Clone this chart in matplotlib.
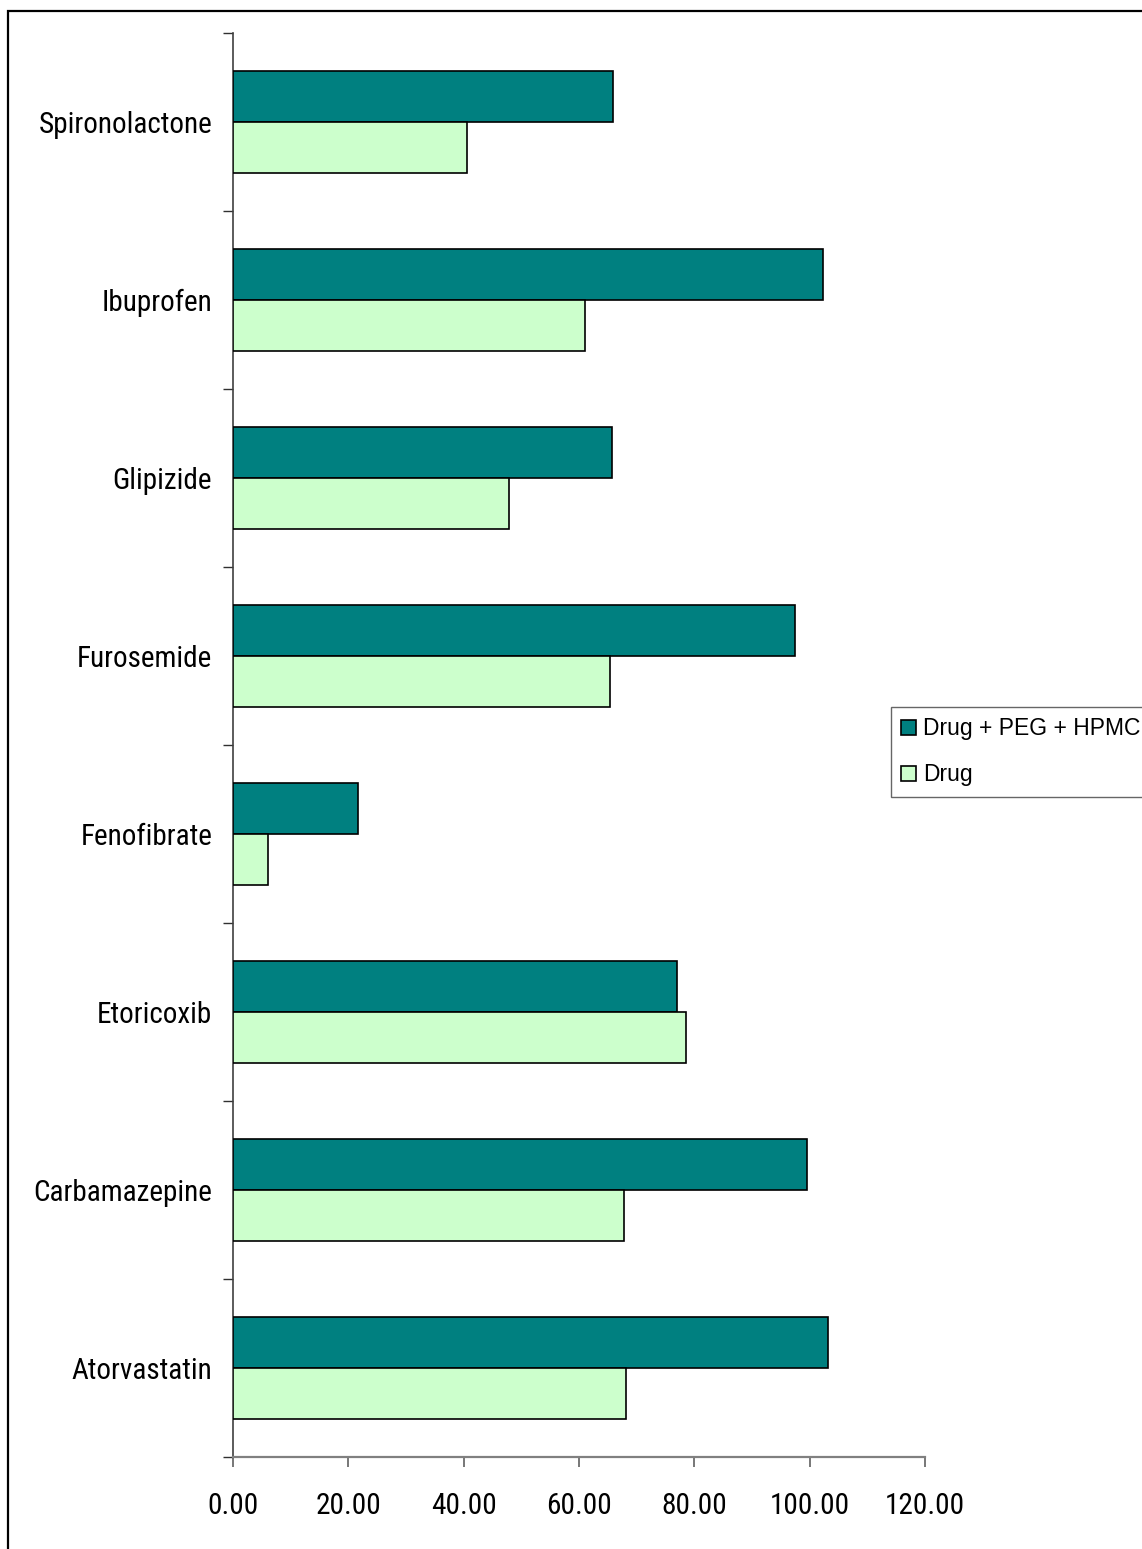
import matplotlib
matplotlib.use("Agg")
import matplotlib.pyplot as plt
from matplotlib.patches import Rectangle
import numpy as np

# Data (bottom-to-top order on the y axis)
drugs = ["Atorvastatin", "Carbamazepine", "Etoricoxib", "Fenofibrate",
         "Furosemide", "Glipizide", "Ibuprofen", "Spironolactone"]
drug_peg_hpmc = [103.2, 99.5, 77.0, 21.7, 97.5, 65.7, 102.3, 65.9]
drug_only = [68.1, 67.8, 78.6, 6.1, 65.4, 47.9, 61.0, 40.6]
x_ticks = [0, 20, 40, 60, 80, 100, 120]

W, H = 1142, 1549
fig = plt.figure(figsize=(W / 100, H / 100), dpi=100)
fig.patch.set_facecolor("white")

narrow = ["Liberation Sans Narrow", "Roboto Condensed", "Archivo Narrow",
          "PT Sans Narrow", "Liberation Sans"]
regular = ["Liberation Sans", "DejaVu Sans"]

ax = fig.add_axes([233 / W, 1 - 1457 / H, (925 - 233) / W, (1457 - 33) / H])

y = np.arange(len(drugs))
h = 0.284
ax.barh(y + h / 2, drug_peg_hpmc, height=h, color="#008080",
        edgecolor="black", linewidth=1.2, label="Drug + PEG + HPMC", zorder=3)
ax.barh(y - h / 2, drug_only, height=h, color="#CCFFCC",
        edgecolor="black", linewidth=1.2, label="Drug", zorder=3)

ax.set_xlim(0, 120)
ax.set_ylim(-0.5, len(drugs) - 0.5)

# x axis
ax.set_xticks(x_ticks)
ax.set_xticklabels([f"{v:.2f}" for v in x_ticks], family=narrow, fontsize=21.2)
ax.tick_params(axis="x", direction="out", length=7, width=1.2,
               color="#606060", pad=18)

# y axis: ticks at category boundaries, labels at centres
ax.set_yticks(np.arange(-0.5, len(drugs), 1.0))
ax.set_yticklabels([])
ax.tick_params(axis="y", which="major", direction="out", length=7,
               width=1.0, color="#303030")
ax.set_yticks(y, minor=True)
ax.set_yticklabels(drugs, minor=True, family=narrow, fontsize=21)
ax.tick_params(axis="y", which="minor", length=0, pad=15)

for s in ("top", "right"):
    ax.spines[s].set_visible(False)
ax.spines["left"].set_color("#404040")
ax.spines["left"].set_linewidth(1.2)
ax.spines["bottom"].set_color("#808080")
ax.spines["bottom"].set_linewidth(1.6)

# Legend box, running off the right edge of the figure
x0 = 891 / W
y_top = 1 - 707 / H
leg = fig.legend(loc="upper left", bbox_to_anchor=(x0, y_top - 0.1, 1.02 - x0, 0.1),
                 mode="expand",
                 borderaxespad=0, frameon=True, fancybox=False, shadow=False,
                 prop={"family": regular, "size": 16.5},
                 handlelength=0.65, handleheight=0.65, handletextpad=0.3,
                 labelspacing=1.0, borderpad=0.45)
leg.get_frame().set_edgecolor("#404040")
leg.get_frame().set_linewidth(1.0)
for p in leg.get_patches():
    p.set_edgecolor("black")
    p.set_linewidth(1.2)

# Outer frame around the chart
fig.patches.append(Rectangle((8 / W, -0.05), 1.2, 1 - 11 / H + 0.05,
                             transform=fig.transFigure, fill=False,
                             edgecolor="black", linewidth=1.6, zorder=10))

fig.savefig("out.png", dpi=100, facecolor="white")
